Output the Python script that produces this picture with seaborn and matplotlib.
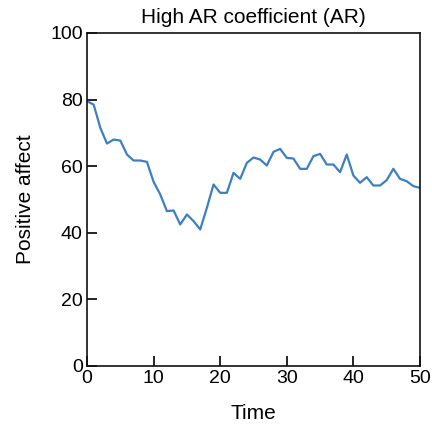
import matplotlib
matplotlib.use("Agg")
import matplotlib.pyplot as plt
import seaborn as sns
import pandas as pd

time = list(range(51))
positive_affect = [79.5, 78.5, 71.5, 66.8, 68, 67.7, 63.5, 61.7, 61.7, 61.3,
                   55.3, 51.5, 46.5, 46.7, 42.5, 45.5, 43.5, 41, 47.5, 54.5,
                   52, 52, 58, 56.2, 61, 62.6, 62, 60.2, 64.3, 65.2,
                   62.5, 62.3, 59.2, 59.2, 63, 63.7, 60.5, 60.5, 58.2, 63.5,
                   57.2, 55, 56.7, 54.2, 54.2, 55.8, 59.2, 56.2, 55.5, 54,
                   53.5]
title = "High AR coefficient (AR)"
xlabel = "Time"
ylabel = "Positive affect"
xticks = [0, 10, 20, 30, 40, 50]
yticks = [0, 20, 40, 60, 80, 100]

sns.set_style("white")
plt.rcParams['font.family'] = ['Liberation Sans', 'DejaVu Sans']
plt.rcParams['text.color'] = 'black'
plt.rcParams['axes.labelcolor'] = 'black'
plt.rcParams['xtick.color'] = 'black'
plt.rcParams['ytick.color'] = 'black'

df = pd.DataFrame({"Time": time, "Positive affect": positive_affect})

fig = plt.figure(figsize=(4.32, 4.29), dpi=100)
ax = fig.add_axes([0.2014, 0.1469, 0.7708, 0.7762])
sns.lineplot(data=df, x="Time", y="Positive affect", ax=ax, color="#3d7fc2", linewidth=1.6)
ax.set_xlim(0, 50)
ax.set_ylim(0, 100)
ax.set_xticks(xticks)
ax.set_yticks(yticks)
ax.tick_params(direction="in", length=7, width=1.2, labelsize=14,
               top=False, right=False, left=True, bottom=True, pad=3)
for s in ax.spines.values():
    s.set_color("#111111")
    s.set_linewidth(1.2)
ax.set_title(title, fontsize=15, pad=7)
ax.set_xlabel(xlabel, fontsize=15, labelpad=12)
ax.set_ylabel(ylabel, fontsize=15, labelpad=11)
fig.savefig("out.png", dpi=100)
